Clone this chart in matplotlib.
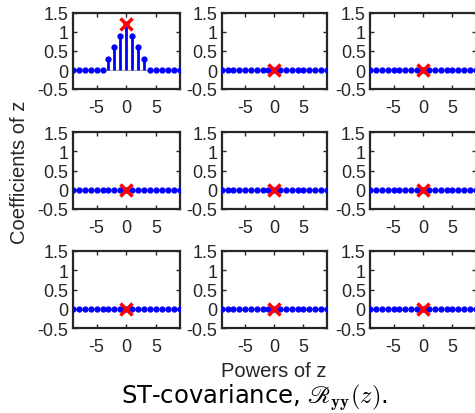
import numpy as np
import matplotlib
matplotlib.use("Agg")
import matplotlib.pyplot as plt

plt.rcParams['font.family'] = ['Liberation Sans', 'DejaVu Sans']
plt.rcParams['mathtext.fontset'] = 'cm'

lags = np.arange(-9, 10)
# coefficients for panel (0,0); others are zero
coef_main = [0, 0, 0, 0, 0, 0, 0.3, 0.6, 0.9, 1.2, 0.9, 0.6, 0.3, 0, 0, 0, 0, 0, 0]
coef_zero = [0] * 19
center_vals = [[1.2, 0, 0], [0, 0, 0], [0, 0, 0]]
yticks = [-0.5, 0, 0.5, 1, 1.5]
ytick_labels = ["-0.5", "0", "0.5", "1", "1.5"]
xticks = [-5, 0, 5]
xtick_labels = ["-5", "0", "5"]

W, H = 475, 414
fig = plt.figure(figsize=(W / 100, H / 100), dpi=100)

col_lr = [(72.7, 180), (221.7, 326.7), (370, 476)]
row_tb = [(14, 90), (133.3, 210), (251.7, 329.3)]

for r in range(3):
    for c in range(3):
        l, rr = col_lr[c]
        t, b = row_tb[r]
        ax = fig.add_axes([l / W, 1 - b / H, (rr - l) / W, (b - t) / H])
        vals = coef_main if (r == 0 and c == 0) else coef_zero
        ax.axhline(0, color='#aaaaaa', lw=0.8, zorder=1)
        ax.vlines(lags, 0, vals, color='blue', lw=2, zorder=2)
        ax.plot(lags, vals, 'o', color='blue', ms=3.5, zorder=3)
        ax.plot([0], [center_vals[r][c]], 'x', color='red', ms=8, mew=2.5, zorder=4)
        ax.set_xlim(-9, 9)
        ax.set_ylim(-0.5, 1.5)
        ax.set_xticks(xticks)
        ax.set_xticklabels(xtick_labels)
        ax.set_yticks(yticks)
        ax.set_yticklabels(ytick_labels)
        ax.tick_params(direction='in', top=True, right=True, length=3, width=1,
                       labelsize=13, colors='#262626', labelcolor='#262626', pad=3)
        ax.tick_params(axis='x', pad=7)
        for s in ax.spines.values():
            s.set_linewidth(1.6)
            s.set_color('#262626')

fig.text(20 / W, 1 - 172 / H, "Coefficients of z", rotation=90, ha='center', va='center',
         fontsize=14.5, color='#262626')
fig.text(274 / W, 1 - 377 / H, "Powers of z", ha='center', va='baseline',
         fontsize=14.5, color='#262626')
fig.text(254 / W, 1 - 403 / H, r"ST-covariance, $\mathscr{R}_{\mathbf{yy}}(z)$.",
         ha='center', va='baseline', fontsize=17.5, color='black',
         family=['DejaVu Sans'])

fig.savefig("out.png", dpi=100)
